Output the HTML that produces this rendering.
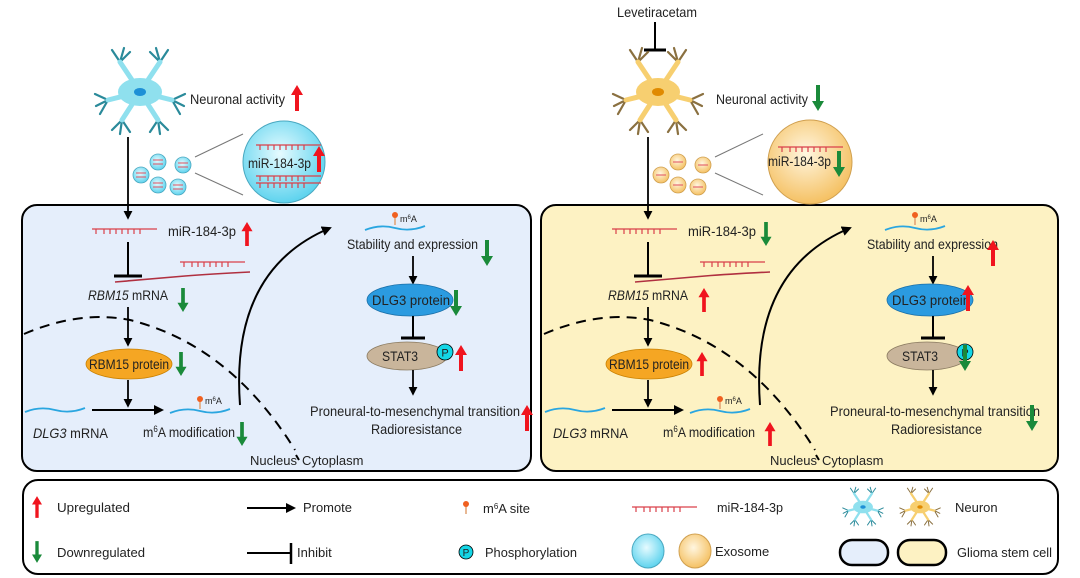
<!DOCTYPE html>
<html><head><meta charset="utf-8"><style>
html,body{margin:0;padding:0;background:#fff;}
svg{display:block;font-family:"Liberation Sans",Arial,sans-serif;}
text{fill:#222;}
</style></head><body>
<svg width="1080" height="578" viewBox="0 0 1080 578" xmlns="http://www.w3.org/2000/svg">
<defs>
<symbol id="up" viewBox="0 0 12 26" overflow="visible"><path d="M6 0 L12 10 L8 10 L8 26 L4 26 L4 10 L0 10Z" fill="#f0141e"/></symbol>
<symbol id="dn" viewBox="0 0 12 26" overflow="visible"><path d="M6 26 L12 16 L8 16 L8 0 L4 0 L4 16 L0 16Z" fill="#1a8a3a"/></symbol>
<marker id="ah" viewBox="0 0 10 10" refX="8" refY="5" markerWidth="5" markerHeight="5" orient="auto"><path d="M0 0 L10 5 L0 10Z" fill="#000"/></marker>
<radialGradient id="cy" cx="0.45" cy="0.4" r="0.6"><stop offset="0" stop-color="#e6fbff"/><stop offset="1" stop-color="#5ed3ee"/></radialGradient>
<radialGradient id="ye" cx="0.45" cy="0.4" r="0.6"><stop offset="0" stop-color="#fff6e0"/><stop offset="1" stop-color="#f5c163"/></radialGradient>
<g id="neuB">
 <g stroke="#2a8a9a" stroke-width="2.2" fill="none" stroke-linecap="round">
  <path d="M0 0 L-20 -30 M-20 -30 L-28 -42 M-20 -30 L-16 -44 M-20 -30 L-10 -40"/>
  <path d="M0 0 L20 -30 M20 -30 L28 -42 M20 -30 L16 -44 M20 -30 L10 -40"/>
  <path d="M0 0 L-32 8 M-32 8 L-45 2 M-32 8 L-44 14 M-32 8 L-40 22"/>
  <path d="M0 0 L32 8 M32 8 L45 2 M32 8 L44 14 M32 8 L40 22"/>
  <path d="M0 0 L-18 28 M-18 28 L-28 38 M-18 28 L-20 42 M-18 28 L-10 40"/>
  <path d="M0 0 L18 28 M18 28 L28 38 M18 28 L20 42 M18 28 L10 40"/>
 </g>
 <g stroke="#8fe0ee" stroke-width="5" fill="none" stroke-linecap="round">
  <path d="M0 0 L-20 -30 M0 0 L20 -30 M0 0 L-32 8 M0 0 L32 8 M0 0 L-18 28 M0 0 L18 28"/>
 </g>
 <ellipse cx="0" cy="0" rx="22" ry="14" fill="#8fe0ee"/>
 <ellipse cx="0" cy="0" rx="6" ry="4" fill="#1e90d6"/>
</g>
<g id="neuY">
 <g stroke="#8a7040" stroke-width="2.2" fill="none" stroke-linecap="round">
  <path d="M0 0 L-20 -30 M-20 -30 L-28 -42 M-20 -30 L-16 -44 M-20 -30 L-10 -40"/>
  <path d="M0 0 L20 -30 M20 -30 L28 -42 M20 -30 L16 -44 M20 -30 L10 -40"/>
  <path d="M0 0 L-32 8 M-32 8 L-45 2 M-32 8 L-44 14 M-32 8 L-40 22"/>
  <path d="M0 0 L32 8 M32 8 L45 2 M32 8 L44 14 M32 8 L40 22"/>
  <path d="M0 0 L-18 28 M-18 28 L-28 38 M-18 28 L-20 42 M-18 28 L-10 40"/>
  <path d="M0 0 L18 28 M18 28 L28 38 M18 28 L20 42 M18 28 L10 40"/>
 </g>
 <g stroke="#f7cf70" stroke-width="5" fill="none" stroke-linecap="round">
  <path d="M0 0 L-20 -30 M0 0 L20 -30 M0 0 L-32 8 M0 0 L32 8 M0 0 L-18 28 M0 0 L18 28"/>
 </g>
 <ellipse cx="0" cy="0" rx="22" ry="14" fill="#f7cf70"/>
 <ellipse cx="0" cy="0" rx="6" ry="4" fill="#e08a00"/>
</g>
<g id="mir"><path d="M0 0 H65 M4 0 v5 M12 0 v5 M18 0 v5 M24 0 v5 M30 0 v5 M36 0 v5 M42 0 v5 M48 0 v5" stroke="#d9404a" stroke-width="1.2" fill="none"/></g>
<g id="wave"><path d="M0 4 Q15 -2 30 2 T60 0" stroke="#2aa6e0" stroke-width="1.8" fill="none"/></g>
<g id="pin"><line x1="0" y1="0" x2="0" y2="10" stroke="#e0a070" stroke-width="1.5"/><circle cx="0" cy="0" r="3" fill="#f06020"/></g>

<g id="cellcontent">
 <line x1="128" y1="137" x2="128" y2="218" stroke="#000" stroke-width="1.8" marker-end="url(#ah)"/>
 <line x1="195" y1="157" x2="243" y2="134" stroke="#777" stroke-width="1"/>
 <line x1="195" y1="173" x2="243" y2="195" stroke="#777" stroke-width="1"/>
 <use href="#mir" x="92" y="229"/>
 <text x="168" y="236" font-size="14" textLength="68" lengthAdjust="spacingAndGlyphs">miR-184-3p</text>
 <line x1="128" y1="242" x2="128" y2="275" stroke="#000" stroke-width="2"/>
 <line x1="114" y1="276" x2="142" y2="276" stroke="#000" stroke-width="3"/>
 <path d="M115 282 Q160 278 185 276 T250 272" stroke="#b03040" stroke-width="1.6" fill="none"/>
 <use href="#mir" x="180" y="262"/>
 <text x="88" y="300" font-size="14" textLength="80" lengthAdjust="spacingAndGlyphs"><tspan font-style="italic">RBM15</tspan> mRNA</text>
 <line x1="128" y1="307" x2="128" y2="345" stroke="#000" stroke-width="1.8" marker-end="url(#ah)"/>
 <ellipse cx="129" cy="364" rx="43" ry="15" fill="#f5a623" stroke="#c98000" stroke-width="0.8"/>
 <text x="89" y="369" font-size="13.5" textLength="80" lengthAdjust="spacingAndGlyphs">RBM15 protein</text>
 <line x1="128" y1="380" x2="128" y2="406" stroke="#000" stroke-width="1.8" marker-end="url(#ah)"/>
 <use href="#wave" x="25" y="408"/>
 <text x="33" y="438" font-size="14" textLength="75" lengthAdjust="spacingAndGlyphs"><tspan font-style="italic">DLG3</tspan> mRNA</text>
 <line x1="92" y1="410" x2="162" y2="410" stroke="#000" stroke-width="2" marker-end="url(#ah)"/>
 <use href="#wave" x="170" y="409"/>
 <use href="#pin" x="200" y="399"/>
 <text x="205" y="404" font-size="9">m<tspan font-size="6" dy="-3">6</tspan><tspan dy="3">A</tspan></text>
 <text x="143" y="437" font-size="14" textLength="92" lengthAdjust="spacingAndGlyphs">m<tspan font-size="9" dy="-5">6</tspan><tspan dy="5">A modification</tspan></text>
 <path d="M24 334 Q80 310 130 320 Q230 345 295 450" stroke="#000" stroke-width="2" stroke-dasharray="10 7" fill="none"/>
 <text x="250" y="465" font-size="13">Nucleus</text>
 <line x1="296" y1="455" x2="299" y2="460" stroke="#000" stroke-width="2"/>
 <text x="302" y="465" font-size="13">Cytoplasm</text>
 <path d="M240 405 Q230 270 330 228" stroke="#000" stroke-width="2" fill="none" marker-end="url(#ah)"/>
 <use href="#wave" x="365" y="226"/>
 <use href="#pin" x="395" y="215"/>
 <text x="400" y="222" font-size="9">m<tspan font-size="6" dy="-3">6</tspan><tspan dy="3">A</tspan></text>
 <text x="347" y="249" font-size="14" textLength="131" lengthAdjust="spacingAndGlyphs">Stability and expression</text>
 <line x1="413" y1="256" x2="413" y2="283" stroke="#000" stroke-width="1.8" marker-end="url(#ah)"/>
 <ellipse cx="410" cy="300" rx="43" ry="16" fill="#2b9be0" stroke="#1a6fa8" stroke-width="0.8"/>
 <text x="372" y="305" font-size="13.5" textLength="78" lengthAdjust="spacingAndGlyphs">DLG3 protein</text>
 <line x1="413" y1="316" x2="413" y2="337" stroke="#000" stroke-width="2"/>
 <line x1="401" y1="338" x2="425" y2="338" stroke="#000" stroke-width="3"/>
 <ellipse cx="407" cy="356" rx="40" ry="14" fill="#c9b59b" stroke="#8a7a60" stroke-width="0.8"/>
 <text x="382" y="361" font-size="13.5" textLength="36" lengthAdjust="spacingAndGlyphs">STAT3</text>
 <circle cx="445" cy="352" r="8" fill="#14d6e6" stroke="#000" stroke-width="0.8"/>
 <text x="445" y="356.5" font-size="11" text-anchor="middle">P</text>
 <line x1="413" y1="370" x2="413" y2="394" stroke="#000" stroke-width="1.8" marker-end="url(#ah)"/>
 <text x="310" y="416" font-size="14" textLength="210" lengthAdjust="spacingAndGlyphs">Proneural-to-mesenchymal transition</text>
 <text x="371" y="434" font-size="14" textLength="91" lengthAdjust="spacingAndGlyphs">Radioresistance</text>
</g>
<g id="exoB">
 <g stroke="#4aa8c0" stroke-width="0.8" fill="url(#cy)">
  <circle cx="158" cy="162" r="8"/><circle cx="183" cy="165" r="8"/><circle cx="141" cy="175" r="8"/><circle cx="158" cy="185" r="8"/><circle cx="178" cy="187" r="8"/>
 </g>
 <g stroke="#e05060" stroke-width="1"><path d="M153 160h10M153 164h10M178 163h10M178 167h10M136 173h10M136 177h10M153 183h10M153 187h10M173 185h10M173 189h10"/></g>
</g>
<g id="exoY">
 <g stroke="#d0a050" stroke-width="0.8" fill="url(#ye)">
  <circle cx="158" cy="162" r="8"/><circle cx="183" cy="165" r="8"/><circle cx="141" cy="175" r="8"/><circle cx="158" cy="185" r="8"/><circle cx="178" cy="187" r="8"/>
 </g>
 <g stroke="#e05060" stroke-width="1"><path d="M153 162h10M178 165h10M136 175h10M153 185h10M173 187h10"/></g>
</g>
</defs>

<rect x="22" y="205" width="509" height="266" rx="15" fill="#e5eefb" stroke="#000" stroke-width="2"/>
<rect x="541" y="205" width="517" height="266" rx="15" fill="#fdf2c3" stroke="#000" stroke-width="2"/>

<!-- LEFT -->
<use href="#neuB" x="140" y="92"/>
<text x="190" y="104" font-size="14" textLength="95" lengthAdjust="spacingAndGlyphs">Neuronal activity</text>
<use href="#up" x="291" y="85" width="12" height="26"/>
<use href="#exoB"/>
<circle cx="284" cy="162" r="41" fill="url(#cy)" stroke="#4aa8c0" stroke-width="1"/>
<use href="#mir" x="256" y="145"/>
<use href="#mir" x="256" y="176"/>
<use href="#mir" x="256" y="183"/>
<text x="248" y="168" font-size="14" textLength="63" lengthAdjust="spacingAndGlyphs">miR-184-3p</text>
<use href="#up" x="313" y="145" width="12" height="28"/>
<use href="#cellcontent"/>
<use href="#up" x="241" y="222" width="12" height="24"/>
<use href="#dn" x="177" y="288" width="12" height="24"/>
<use href="#dn" x="175" y="352" width="12" height="24"/>
<use href="#dn" x="236" y="422" width="12" height="24"/>
<use href="#dn" x="481" y="240" width="12" height="26"/>
<use href="#dn" x="450" y="290" width="12" height="26"/>
<use href="#up" x="455" y="345" width="12" height="26"/>
<use href="#up" x="521" y="405" width="12" height="26"/>

<!-- RIGHT -->
<text x="617" y="17" font-size="14" textLength="80" lengthAdjust="spacingAndGlyphs">Levetiracetam</text>
<line x1="655" y1="22" x2="655" y2="49" stroke="#000" stroke-width="2"/>
<line x1="644" y1="50" x2="666" y2="50" stroke="#000" stroke-width="3"/>
<use href="#neuY" x="658" y="92"/>
<text x="716" y="104" font-size="14" textLength="92" lengthAdjust="spacingAndGlyphs">Neuronal activity</text>
<use href="#dn" x="812" y="85" width="12" height="26"/>
<g transform="translate(520,0)">
 <use href="#exoY"/>
 <circle cx="290" cy="162" r="42" fill="url(#ye)" stroke="#d0a050" stroke-width="1"/>
 <use href="#mir" x="258" y="147"/>
 <text x="248" y="166" font-size="14" textLength="63" lengthAdjust="spacingAndGlyphs">miR-184-3p</text>
 <use href="#cellcontent"/>
</g>
<use href="#dn" x="760" y="222" width="12" height="24"/>
<use href="#dn" x="833" y="150" width="12" height="28"/>
<use href="#up" x="698" y="288" width="12" height="24"/>
<use href="#up" x="696" y="352" width="12" height="24"/>
<use href="#up" x="764" y="422" width="12" height="24"/>
<use href="#up" x="987" y="240" width="12" height="26"/>
<use href="#up" x="962" y="285" width="12" height="26"/>
<use href="#dn" x="959" y="345" width="12" height="26"/>
<use href="#dn" x="1026" y="405" width="12" height="26"/>

<!-- LEGEND -->
<rect x="23" y="480" width="1035" height="94" rx="15" fill="#fff" stroke="#000" stroke-width="2"/>
<use href="#up" x="32" y="495" width="10" height="24"/>
<text x="57" y="512" font-size="13" textLength="73" lengthAdjust="spacingAndGlyphs">Upregulated</text>
<use href="#dn" x="32" y="540" width="10" height="24"/>
<text x="57" y="557" font-size="13" textLength="88" lengthAdjust="spacingAndGlyphs">Downregulated</text>
<line x1="247" y1="508" x2="294" y2="508" stroke="#000" stroke-width="2" marker-end="url(#ah)"/>
<text x="303" y="512" font-size="13" textLength="49" lengthAdjust="spacingAndGlyphs">Promote</text>
<line x1="247" y1="553" x2="290" y2="553" stroke="#000" stroke-width="2"/>
<line x1="291" y1="543" x2="291" y2="564" stroke="#000" stroke-width="2.5"/>
<text x="297" y="557" font-size="13">Inhibit</text>
<use href="#pin" x="466" y="504"/>
<text x="483" y="513" font-size="13" textLength="47" lengthAdjust="spacingAndGlyphs">m<tspan font-size="8" dy="-4">6</tspan><tspan dy="4">A site</tspan></text>
<circle cx="466" cy="552" r="7" fill="#14d6e6" stroke="#000" stroke-width="0.8"/>
<text x="466" y="556" font-size="10" text-anchor="middle">P</text>
<text x="485" y="557" font-size="13" textLength="92" lengthAdjust="spacingAndGlyphs">Phosphorylation</text>
<use href="#mir" x="632" y="507"/>
<text x="717" y="512" font-size="13" textLength="66" lengthAdjust="spacingAndGlyphs">miR-184-3p</text>
<ellipse cx="648" cy="551" rx="16" ry="17" fill="url(#cy)" stroke="#4aa8c0"/>
<ellipse cx="695" cy="551" rx="16" ry="17" fill="url(#ye)" stroke="#d0a050"/>
<text x="715" y="556" font-size="13">Exosome</text>
<use href="#neuB" transform="translate(863,507) scale(0.45)"/>
<use href="#neuY" transform="translate(920,507) scale(0.45)"/>
<text x="955" y="512" font-size="13">Neuron</text>
<rect x="840" y="540" width="48" height="25" rx="12" fill="#e5eefb" stroke="#000" stroke-width="2.5"/>
<rect x="898" y="540" width="48" height="25" rx="12" fill="#fdf2c3" stroke="#000" stroke-width="2.5"/>
<text x="957" y="557" font-size="13" textLength="95" lengthAdjust="spacingAndGlyphs">Glioma stem cell</text>
</svg>
</body></html>
